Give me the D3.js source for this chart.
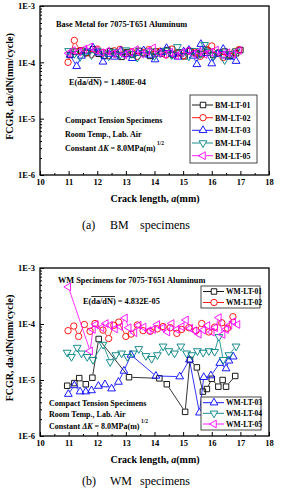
<!DOCTYPE html>
<html>
<head>
<meta charset="utf-8">
<script src="https://cdn.jsdelivr.net/npm/d3@7"></script>
<style>
body { margin: 0; background: #fff; }
svg { display: block; }
text { font-family: "Liberation Serif", "Times New Roman", serif; fill: #000; }
</style>
</head>
<body>
<svg width="282" height="489"></svg>
<script>
// ---- data ----
const xTicks = [10, 11, 12, 13, 14, 15, 16, 17, 18];
const xMinor = [10.5, 11.5, 12.5, 13.5, 14.5, 15.5, 16.5, 17.5];
const yTicks = [1e-6, 1e-5, 1e-4, 1e-3];
const yTickLabels = ["1E-6", "1E-5", "1E-4", "1E-3"];

const bmNames = ["BM-LT-01", "BM-LT-02", "BM-LT-03", "BM-LT-04", "BM-LT-05"];
const wmNames = ["WM-LT-01", "WM-LT-02", "WM-LT-03", "WM-LT-04", "WM-LT-05"];

const bm01 = [[11.05,1.35e-4],[11.25,1.55e-4],[11.45,1.62e-4],[11.65,1.48e-4],[11.85,1.70e-4],[12.05,1.42e-4],[12.25,1.30e-4],[12.45,1.58e-4],[12.65,1.40e-4],[12.85,1.25e-4],[13.05,1.52e-4],[13.25,1.38e-4],[13.45,1.60e-4],[13.65,1.45e-4],[13.85,1.30e-4],[14.05,1.55e-4],[14.25,1.42e-4],[14.45,1.65e-4],[14.65,1.35e-4],[14.85,1.50e-4],[15.05,1.28e-4],[15.25,1.58e-4],[15.45,1.45e-4],[15.65,1.40e-4],[15.85,1.62e-4],[16.05,1.35e-4],[16.25,1.48e-4],[16.45,1.55e-4],[16.65,1.30e-4],[16.85,1.45e-4],[17.0,1.65e-4]];
const bm02 = [[10.98,1.00e-4],[11.2,2.45e-4],[11.4,1.62e-4],[11.6,1.45e-4],[11.8,1.38e-4],[12.0,1.72e-4],[12.2,1.50e-4],[12.4,1.32e-4],[12.6,1.60e-4],[12.8,1.70e-4],[13.0,1.42e-4],[13.2,1.55e-4],[13.4,1.28e-4],[13.6,1.50e-4],[13.8,1.68e-4],[14.0,1.40e-4],[14.2,1.58e-4],[14.4,1.35e-4],[14.6,1.72e-4],[14.8,1.45e-4],[15.0,1.30e-4],[15.2,1.62e-4],[15.4,1.52e-4],[15.6,1.28e-4],[15.8,1.70e-4],[16.0,1.95e-4],[16.2,1.45e-4],[16.4,1.22e-4],[16.6,1.38e-4],[16.8,1.55e-4],[16.95,1.68e-4]];
const bm03 = [[11.05,1.35e-4],[11.28,0.85e-4],[11.45,1.30e-4],[11.62,1.55e-4],[11.85,1.82e-4],[12.05,1.48e-4],[12.2,1.02e-4],[12.42,1.40e-4],[12.6,1.25e-4],[12.82,1.60e-4],[13.0,1.38e-4],[13.22,1.18e-4],[13.42,1.45e-4],[13.62,1.62e-4],[13.82,1.35e-4],[14.02,1.12e-4],[14.22,1.50e-4],[14.42,1.78e-4],[14.62,1.40e-4],[14.82,1.25e-4],[15.02,1.55e-4],[15.2,1.65e-4],[15.35,1.30e-4],[15.48,0.92e-4],[15.62,2.10e-4],[15.8,1.45e-4],[16.0,0.95e-4],[16.2,1.40e-4],[16.4,1.72e-4],[16.6,1.25e-4],[16.85,1.05e-4]];
const bm04 = [[11.0,1.60e-4],[11.2,1.42e-4],[11.4,1.25e-4],[11.6,1.52e-4],[11.8,1.35e-4],[12.0,1.62e-4],[12.2,1.45e-4],[12.4,1.28e-4],[12.6,1.55e-4],[12.8,1.38e-4],[13.0,1.65e-4],[13.2,1.42e-4],[13.4,1.22e-4],[13.6,1.48e-4],[13.8,1.58e-4],[14.0,1.30e-4],[14.2,1.45e-4],[14.4,1.62e-4],[14.6,1.35e-4],[14.8,1.88e-4],[15.0,1.50e-4],[15.2,1.28e-4],[15.4,1.60e-4],[15.6,1.40e-4],[15.75,2.05e-4],[15.9,1.55e-4],[16.05,1.30e-4],[16.25,1.48e-4],[16.45,1.10e-4],[16.65,1.42e-4],[16.85,1.58e-4]];
const bm05 = [[11.0,1.45e-4],[11.15,1.62e-4],[11.35,1.52e-4],[11.55,1.72e-4],[11.75,1.88e-4],[11.95,1.62e-4],[12.15,1.48e-4],[12.35,1.58e-4],[12.55,1.42e-4],[12.75,1.55e-4],[12.95,1.35e-4],[13.15,1.50e-4],[13.35,1.68e-4],[13.55,1.40e-4],[13.75,1.55e-4],[13.95,1.80e-4],[14.15,1.45e-4],[14.35,1.38e-4],[14.55,1.52e-4],[14.75,1.30e-4],[14.95,1.48e-4],[15.15,1.60e-4],[15.35,1.42e-4],[15.55,1.55e-4],[15.75,1.38e-4],[15.95,1.50e-4],[16.15,1.65e-4],[16.35,1.35e-4],[16.55,1.48e-4],[16.75,1.40e-4],[16.95,1.62e-4]];

const wm01 = [[10.95,7.9e-6],[11.2,8.8e-6],[11.37,1.08e-5],[11.6,8.4e-6],[11.83,1.1e-5],[12.05,5.4e-5],[13.11,1.12e-5],[14.17,1.07e-5],[14.43,8.4e-6],[15.07,2.7e-6],[15.24,2.28e-5],[15.48,1.68e-5],[15.69,6.2e-6],[15.83,6.9e-6],[16.0,1.05e-5],[16.23,7.6e-6],[16.38,1.0e-5],[16.5,7.6e-6],[16.82,1.18e-5]];
const wm02 = [[10.98,7.6e-5],[11.18,9.2e-5],[11.35,6.0e-5],[11.55,9.8e-5],[11.75,7.4e-5],[11.92,1.02e-4],[12.2,7.8e-5],[12.4,5.5e-5],[12.58,9.5e-5],[12.75,1.08e-4],[13.0,6.0e-5],[13.18,6.6e-5],[13.4,9.6e-5],[13.6,7.6e-5],[13.85,7.4e-5],[14.1,8.2e-5],[14.3,9.0e-5],[14.55,8.6e-5],[14.78,6.8e-5],[14.95,8.0e-5],[15.2,8.6e-5],[15.45,7.6e-5],[15.65,1.02e-4],[15.9,7.2e-5],[16.1,8.8e-5],[16.35,1.05e-4],[16.55,8.4e-5],[16.74,1.35e-4]];
const wm03 = [[10.99,5.6e-6],[11.2,8.0e-6],[11.4,6.2e-6],[11.6,6.2e-6],[11.8,6.5e-6],[12.04,7.8e-6],[12.27,8.3e-6],[12.5,7.0e-6],[12.74,9.2e-6],[12.93,1.45e-5],[13.18,2.8e-5],[14.05,1.18e-5],[14.88,1.15e-5],[15.22,2.3e-5],[15.57,2.6e-6],[15.72,1.12e-5],[15.97,1.2e-5],[16.28,2.0e-5],[16.5,1.6e-5],[16.6,2.2e-5],[16.75,2.6e-5]];
const wm04 = [[10.95,3.1e-5],[11.1,2.6e-5],[11.3,3.8e-5],[11.45,3.0e-5],[11.65,2.6e-5],[11.85,2.3e-5],[12.2,4.3e-5],[12.45,2.1e-5],[12.65,2.8e-5],[12.85,3.0e-5],[13.05,2.6e-5],[13.25,3.0e-5],[13.45,3.6e-5],[13.7,2.7e-5],[13.9,2.4e-5],[14.1,2.8e-5],[14.3,4.0e-5],[14.5,3.3e-5],[14.7,3.0e-5],[14.92,4.0e-5],[15.12,3.0e-5],[15.3,2.8e-5],[15.5,3.3e-5],[15.7,3.1e-5],[15.9,3.3e-5],[16.1,3.2e-5],[16.25,5.9e-5],[16.4,2.3e-5],[16.6,2.8e-5],[16.85,4.0e-5]];
const wm05 = [[10.99,4.6e-4],[11.75,3.3e-5],[11.85,8.0e-5],[11.95,9.8e-5],[12.15,8.6e-5],[12.3,1.02e-4],[12.45,9.5e-5],[12.62,8.2e-5],[12.8,9.0e-5],[12.97,1.28e-4],[13.1,8.6e-5],[13.3,7.0e-5],[13.45,9.5e-5],[13.62,8.8e-5],[13.8,7.6e-5],[13.95,8.0e-5],[14.1,9.8e-5],[14.28,8.5e-5],[14.45,7.2e-5],[14.6,1.02e-4],[14.78,8.0e-5],[14.95,9.0e-5],[15.1,1.18e-4],[15.25,8.4e-5],[15.4,7.6e-5],[15.55,6.6e-5],[15.7,7.8e-5],[15.85,9.4e-5],[16.0,7.2e-5],[16.12,8.6e-5],[16.25,1.3e-4],[16.38,6.5e-5],[16.5,8.0e-5],[16.62,9.5e-5],[16.75,1.1e-4],[16.9,9.8e-5]];

const colors = ["#000000", "#ff0000", "#0000ff", "#008080", "#ff00ff"];
const shapes = ["square", "circle", "up", "down", "left"];

const svg = d3.select("svg");
let maskId = 0;

function symbolPath(shape) {
  if (shape === "square") return d3.symbol().type(d3.symbolSquare).size(30)();
  if (shape === "circle") return d3.symbol().type(d3.symbolCircle).size(32)();
  return d3.symbol().type(d3.symbolTriangle).size(26)();
}
function symbolRot(shape) {
  return shape === "down" ? 180 : shape === "left" ? -90 : 0;
}

function putMarker(sel, shape, color, cx, cy) {
  sel.append("path")
    .attr("d", symbolPath(shape))
    .attr("transform", `translate(${cx},${cy}) rotate(${symbolRot(shape)})`)
    .attr("fill", "none")
    .attr("stroke", color)
    .attr("stroke-width", 0.9);
}

function textWidth(parent, str, size, weight) {
  const t = parent.append("text").attr("font-size", size).attr("font-weight", weight).text(str);
  const w = t.node().getComputedTextLength();
  t.remove();
  return w;
}

function meanLabel(g, x0, yc, value) {
  const size = 8.3;
  const parts = ["E(", "da/dN", ") = " + value];
  let x = x0;
  const ws = parts.map(p => textWidth(g, p, size, "bold"));
  parts.forEach((p, i) => {
    g.append("text").attr("x", x).attr("y", yc).attr("dy", "0.35em")
      .attr("font-size", size).attr("font-weight", "bold").text(p);
    if (i === 1) {
      g.append("line").attr("x1", x).attr("x2", x + ws[1] + 2)
        .attr("y1", yc - 4.5).attr("y2", yc - 4.5)
        .attr("stroke", "#000").attr("stroke-width", 0.8);
    }
    x += ws[i];
  });
}

function conditions(g, x0, y1, y2, y3) {
  const size = 8;
  g.append("text").attr("x", x0).attr("y", y1).attr("dy", "0.35em")
    .attr("font-size", size).attr("font-weight", "bold").text("Compact Tension Specimens");
  g.append("text").attr("x", x0).attr("y", y2).attr("dy", "0.35em")
    .attr("font-size", size).attr("font-weight", "bold").text("Room Temp., Lab. Air");
  const t = g.append("text").attr("x", x0).attr("y", y3).attr("dy", "0.35em")
    .attr("font-size", size).attr("font-weight", "bold");
  t.append("tspan").text("Constant ");
  t.append("tspan").attr("font-style", "italic").text("\u0394K");
  t.append("tspan").text(" = 8.0MPa(m)");
  const w = t.node().getComputedTextLength();
  g.append("text").attr("x", x0 + w + 1.5).attr("y", y3 - 5).attr("dy", "0.35em")
    .attr("font-size", 5.5).attr("font-weight", "bold").text("1/2");
}

function legend(g, L, names) {
  g.append("rect").attr("x", L.x).attr("y", L.y).attr("width", L.w).attr("height", L.h)
    .attr("fill", "#fff").attr("stroke", "#333").attr("stroke-width", 0.9);
  L.idx.forEach((k, i) => {
    const yy = L.rows[i];
    const c = colors[k];
    const x0 = L.x;
    g.append("line").attr("x1", x0 + 2).attr("x2", x0 + 10).attr("y1", yy).attr("y2", yy)
      .attr("stroke", c).attr("stroke-width", 0.9);
    g.append("line").attr("x1", x0 + 16).attr("x2", x0 + 23).attr("y1", yy).attr("y2", yy)
      .attr("stroke", c).attr("stroke-width", 0.9);
    putMarker(g, shapes[k], c, x0 + 13, yy);
    g.append("text").attr("x", x0 + 25).attr("y", yy).attr("dy", "0.35em")
      .attr("font-size", L.fs).attr("font-weight", "bold").text(names[k]);
  });
}

function panel(cfg) {
  const g = svg.append("g");
  const x = d3.scaleLinear().domain([10, 18]).range([40, 269]);
  const y = d3.scaleLog().domain([1e-6, 1e-3]).range([cfg.bottom, cfg.top]);

  // series: lines gapped at markers (mask), then open markers
  cfg.series.forEach((data, k) => {
    const c = colors[k];
    const id = "m" + (maskId++);
    const mask = g.append("mask").attr("id", id).attr("maskUnits", "userSpaceOnUse")
      .attr("x", 0).attr("y", 0).attr("width", 282).attr("height", 489);
    mask.append("rect").attr("width", 282).attr("height", 489).attr("fill", "#fff");
    data.forEach(d => {
      mask.append("path").attr("d", symbolPath(shapes[k]))
        .attr("transform", `translate(${x(d[0])},${y(d[1])}) rotate(${symbolRot(shapes[k])})`)
        .attr("fill", "#000").attr("stroke", "#000").attr("stroke-width", 1);
    });
    g.append("path").datum(data)
      .attr("d", d3.line().x(d => x(d[0])).y(d => y(d[1])))
      .attr("fill", "none").attr("stroke", c).attr("stroke-width", 0.8)
      .attr("mask", `url(#${id})`);
    data.forEach(d => putMarker(g, shapes[k], c, x(d[0]), y(d[1])));
  });

  // frame
  g.append("rect").attr("x", 40).attr("y", cfg.top).attr("width", 229)
    .attr("height", cfg.bottom - cfg.top)
    .attr("fill", "none").attr("stroke", "#000").attr("stroke-width", 1.3);

  // axes (inward ticks)
  const yMinor = [];
  [1e-6, 1e-5, 1e-4].forEach(b => { for (let m = 2; m <= 9; m++) yMinor.push(b * m); });
  const ax = g.append("g").attr("transform", "translate(40,0)")
    .call(d3.axisLeft(y).tickValues(yTicks).tickFormat((d, i) => yTickLabels[i]).tickSize(-4).tickPadding(5));
  g.append("g").attr("transform", "translate(40,0)")
    .call(d3.axisLeft(y).tickValues(yMinor).tickFormat("").tickSize(-2));
  const bx = g.append("g").attr("transform", `translate(0,${cfg.bottom})`)
    .call(d3.axisBottom(x).tickValues(xTicks).tickFormat(d3.format("d")).tickSize(-4).tickPadding(4));
  g.append("g").attr("transform", `translate(0,${cfg.bottom})`)
    .call(d3.axisBottom(x).tickValues(xMinor).tickFormat("").tickSize(-2));
  g.selectAll(".domain").remove();
  g.selectAll(".tick line").attr("stroke", "#000").attr("stroke-width", 1);
  [ax, bx].forEach(a => a.selectAll("text")
    .attr("font-family", '"Liberation Serif", serif').attr("font-size", 8.5).attr("font-weight", "bold"));

  // axis titles
  g.append("text").attr("transform", `translate(13,${(cfg.top + cfg.bottom) / 2 - 4}) rotate(-90)`)
    .attr("text-anchor", "middle").attr("font-size", 10).attr("font-weight", "bold")
    .text("FCGR, da/dN(mm/cycle)");
  const xt = g.append("text").attr("x", 155).attr("y", cfg.bottom + 27)
    .attr("text-anchor", "middle").attr("font-size", 10).attr("font-weight", "bold");
  xt.append("tspan").text("Crack length, ");
  xt.append("tspan").attr("font-style", "italic").text("a");
  xt.append("tspan").text("(mm)");

  // caption
  const cap = cfg.caption;
  g.append("text").attr("x", 82).attr("y", cap.y).attr("font-size", 12).text(cap.a);
  g.append("text").attr("x", 110).attr("y", cap.y).attr("font-size", 12).text(cap.b);
  g.append("text").attr("x", 140).attr("y", cap.y).attr("font-size", 12).text("specimens");

  g.append("text").attr("x", cfg.title.x).attr("y", cfg.title.y).attr("dy", "0.35em")
    .attr("font-size", 8.3).attr("font-weight", "bold").text(cfg.title.text);
  meanLabel(g, cfg.mean.x, cfg.mean.y, cfg.mean.value);
  conditions(g, cfg.cond.x, cfg.cond.y[0], cfg.cond.y[1], cfg.cond.y[2]);
  cfg.legends.forEach(L => legend(g, L, cfg.names));
}

panel({
  top: 6, bottom: 175,
  series: [bm01, bm02, bm03, bm04, bm05],
  names: bmNames,
  caption: { y: 229, a: "(a)", b: "BM" },
  title: { x: 56, y: 24, text: "Base Metal for 7075-T651 Aluminum" },
  mean: { x: 69, y: 82, value: "1.480E-04" },
  cond: { x: 65, y: [120, 134, 148] },
  legends: [{ x: 190, y: 95, w: 67, h: 68, fs: 8, idx: [0, 1, 2, 3, 4], rows: [105, 117.7, 130.3, 143, 155.7] }]
});

panel({
  top: 268, bottom: 436,
  series: [wm01, wm02, wm03, wm04, wm05],
  names: wmNames,
  caption: { y: 485, a: "(b)", b: "WM" },
  title: { x: 58, y: 280, text: "WM Specimens for 7075-T651 Aluminum" },
  mean: { x: 83, y: 301, value: "4.832E-05" },
  cond: { x: 49, y: [403, 414, 426] },
  legends: [
    { x: 201, y: 286, w: 59, h: 22, fs: 7.6, idx: [0, 1], rows: [291.5, 302.5] },
    { x: 201, y: 397, w: 60, h: 33, fs: 7.6, idx: [2, 3, 4], rows: [402.7, 413.3, 424] }
  ]
});
</script>
</body>
</html>
